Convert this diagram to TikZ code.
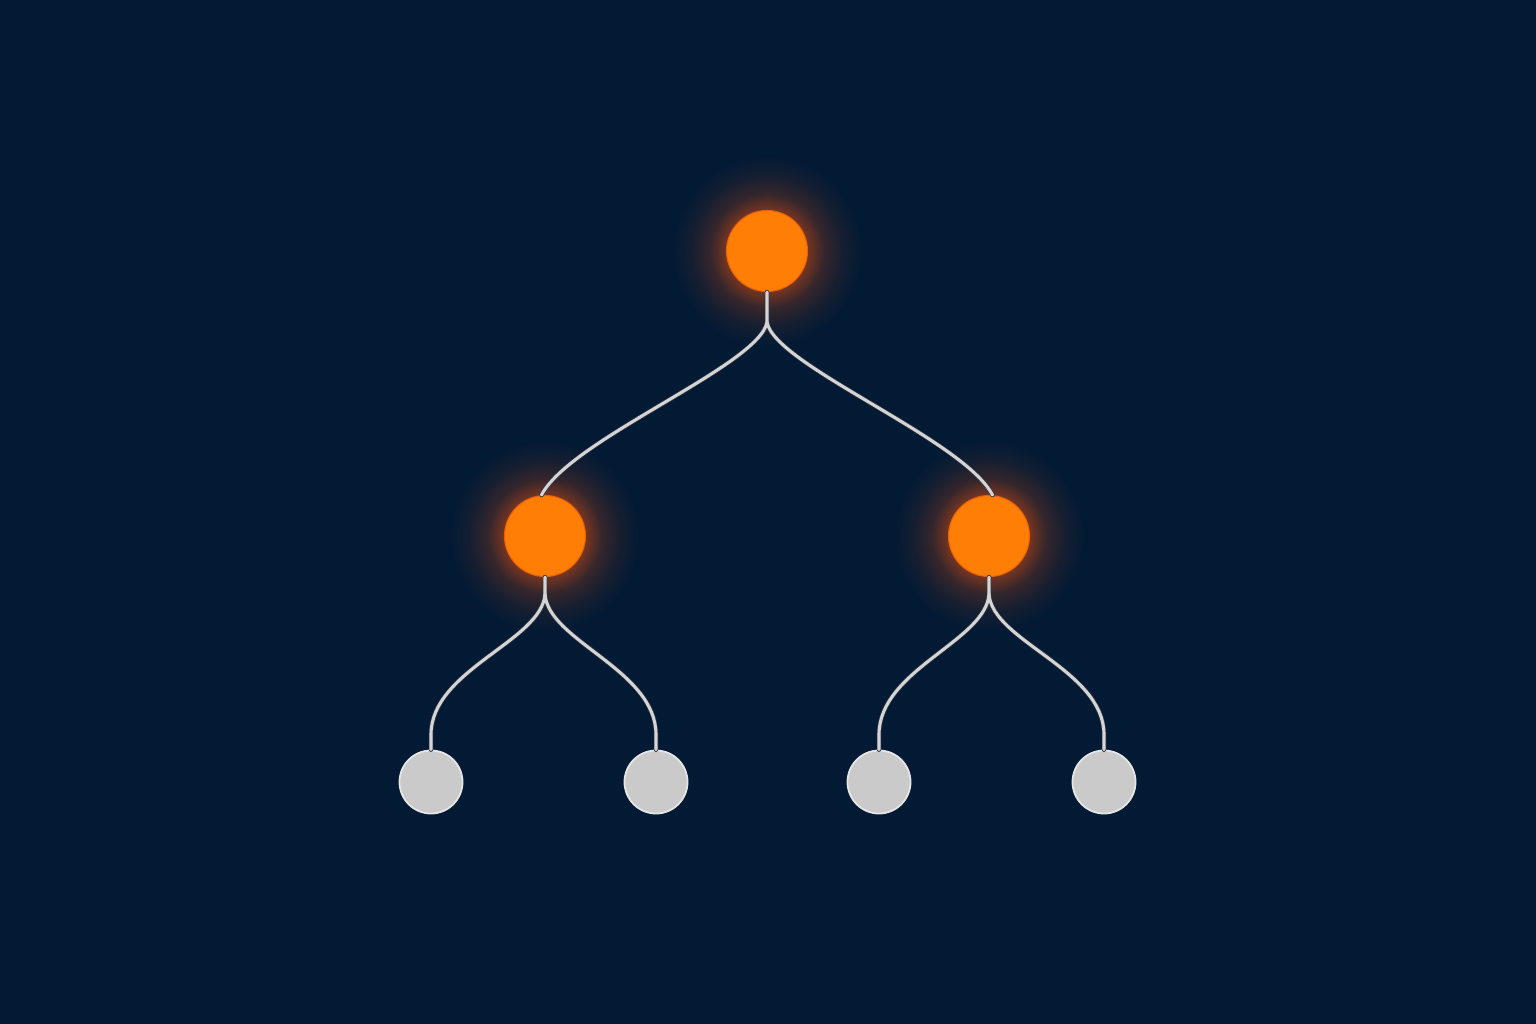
\documentclass[tikz,border=0pt]{standalone}
\usetikzlibrary{calc}
\definecolor{bg}{HTML}{031A34}
\definecolor{nodeorange}{HTML}{FF7E05}
\definecolor{orangerim}{HTML}{E8600A}
\definecolor{glowred}{HTML}{E8500E}
\definecolor{leafgray}{HTML}{CACACA}
\definecolor{leafrim}{HTML}{E6E6E6}
\definecolor{wirec}{HTML}{D4D4D4}
\definecolor{wireedge}{HTML}{2E3644}
\colorlet{gB}{glowred!48!bg}
\colorlet{gC}{glowred!22!bg}
\colorlet{gD}{glowred!8!bg}
\pgfdeclareradialshading{glow}{\pgfpoint{0bp}{0bp}}{color(0bp)=(gB); color(11bp)=(gB); color(15bp)=(gC); color(20bp)=(gD); color(25bp)=(bg); color(50bp)=(bg)}
\tikzset{
  hub/.style={circle, inner sep=0pt, minimum size=0.81cm, fill=nodeorange, draw=orangerim, line width=0.3pt},
  leaf/.style={circle, inner sep=0pt, minimum size=0.63cm, fill=leafgray, draw=leafrim, line width=0.5pt},
  wireunder/.style={draw=wireedge, line width=0.045cm, line cap=round},
  wireover/.style={draw=wirec, line width=0.031cm, line cap=round},
}
\newcommand\treewires[1]{%
  \draw[#1] (root.south) -- (rs) .. controls +(-7,43) and +(29,-56) .. (m1.95);
  \draw[#1] (rs) .. controls +(7,43) and +(-29,-56) .. (m2.85);
  \draw[#1] (m1.south) -- (m1s) .. controls +(-3,47) and +(0,-65) .. (l1t) -- (l1.north);
  \draw[#1] (m1s) .. controls +(3,47) and +(0,-65) .. (l2t) -- (l2.north);
  \draw[#1] (m2.south) -- (m2s) .. controls +(-3,47) and +(0,-65) .. (l3t) -- (l3.north);
  \draw[#1] (m2s) .. controls +(3,47) and +(0,-65) .. (l4t) -- (l4.north);
}
\begin{document}
\begin{tikzpicture}[x=0.01cm, y=-0.01cm]
  \fill[bg] (0,0) rectangle (1536,1024);
  \useasboundingbox (0,0) rectangle (1536,1024);
  % positions
  \coordinate (pr) at (767,251);
  \coordinate (pm1) at (545,536);
  \coordinate (pm2) at (989,536);
  % glows
  \foreach \p in {pr,pm1,pm2}{
    \shade[shading=glow] (\p) circle[radius=95];
  }
  % nodes
  \node[hub] (root) at (pr) {};
  \node[hub] (m1) at (pm1) {};
  \node[hub] (m2) at (pm2) {};
  \node[leaf] (l1) at (431,782) {};
  \node[leaf] (l2) at (656,782) {};
  \node[leaf] (l3) at (879,782) {};
  \node[leaf] (l4) at (1104,782) {};
  % split points
  \coordinate (rs) at ($(root.south)+(0,30)$);
  \coordinate (m1s) at ($(m1.south)+(0,17)$);
  \coordinate (m2s) at ($(m2.south)+(0,17)$);
  \coordinate (l1t) at ($(l1.north)+(0,-15)$);
  \coordinate (l2t) at ($(l2.north)+(0,-15)$);
  \coordinate (l3t) at ($(l3.north)+(0,-15)$);
  \coordinate (l4t) at ($(l4.north)+(0,-15)$);
  % wires
  \treewires{wireunder}
  \treewires{wireover}
\end{tikzpicture}
\end{document}
